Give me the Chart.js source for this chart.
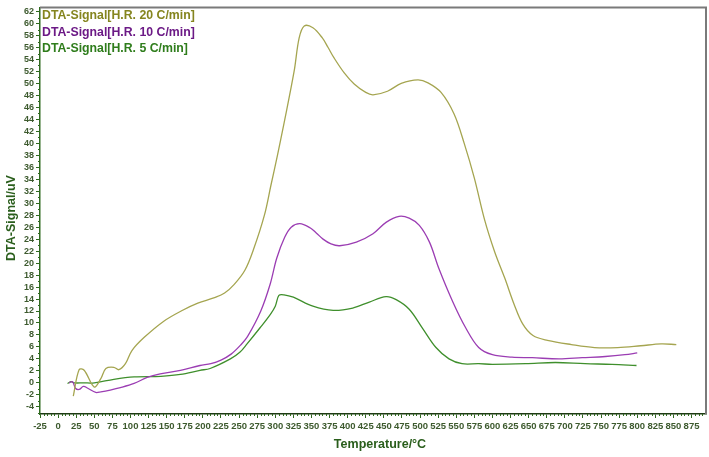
<!DOCTYPE html>
<html>
<head>
<meta charset="utf-8">
<script src="https://cdn.jsdelivr.net/npm/chart.js@4.4.1/dist/chart.umd.min.js"></script>
<style>
  html, body { margin: 0; padding: 0; background: #fff; }
  #wrap { width: 709px; height: 457px; }
</style>
</head>
<body>
<div id="wrap"><canvas id="dtaChart" width="709" height="457"></canvas></div>
<script>
// values
const seriesNames = ['DTA-Signal[H.R. 20 C/min]', 'DTA-Signal[H.R. 10 C/min]', 'DTA-Signal[H.R. 5 C/min]'];

const temp20 = [21, 29, 36, 50, 59, 66, 77, 84, 93, 102, 119, 146, 170, 193, 215, 230, 243, 258, 270, 285, 294, 303, 312, 326, 333, 340, 352, 365, 373, 381, 395, 409, 425, 435, 455, 474, 497, 511, 529, 547, 561, 575, 589, 603, 617, 630, 642, 656, 676, 709, 741, 773, 805, 833, 854];
const sig20  = [-2.2, 2.2, 2.1, -0.7, 0.7, 2.4, 2.6, 2.2, 3.2, 5.4, 7.6, 10.3, 12.0, 13.3, 14.2, 15.0, 16.4, 18.8, 22.3, 28.0, 33.0, 38.0, 43.3, 52.0, 57.6, 59.6, 59.3, 57.6, 56.0, 54.3, 51.8, 49.9, 48.5, 48.1, 48.7, 50.0, 50.6, 50.1, 48.5, 44.9, 40.0, 34.2, 27.3, 21.9, 17.5, 13.1, 9.8, 7.9, 7.1, 6.4, 5.9, 5.9, 6.2, 6.5, 6.4];

const temp10 = [15, 20, 24, 29, 35, 41, 52, 59, 72, 86, 105, 123, 141, 169, 196, 211, 225, 239, 252, 262, 280, 293, 302, 313, 322, 334, 348, 357, 366, 377, 389, 412, 435, 453, 471, 485, 499, 513, 526, 545, 563, 581, 600, 627, 655, 692, 724, 756, 783, 800];
const sig10  = [0, 0.2, -0.9, -1.1, -0.6, -0.9, -1.6, -1.5, -1.2, -0.8, -0.1, 0.9, 1.5, 2.1, 2.9, 3.2, 3.8, 4.8, 6.3, 7.8, 12.0, 16.5, 20.8, 24.3, 26.0, 26.6, 25.9, 25.0, 24.0, 23.2, 22.9, 23.5, 24.9, 26.8, 27.8, 27.5, 26.3, 23.5, 19.1, 13.6, 9.2, 5.9, 4.7, 4.3, 4.2, 4.0, 4.2, 4.4, 4.7, 5.0];

const temp5 = [13, 18, 22, 35, 50, 77, 105, 142, 169, 196, 210, 238, 251, 261, 279, 293, 300, 305, 312, 325, 352, 380, 407, 430, 453, 467, 485, 503, 522, 540, 558, 581, 600, 646, 687, 728, 765, 799];
const sig5  = [-0.1, 0.2, 0, 0, 0, 0.6, 1.0, 1.1, 1.4, 2.1, 2.4, 4.0, 5.1, 6.5, 9.2, 11.4, 12.8, 14.6, 14.7, 14.3, 12.8, 12.1, 12.5, 13.5, 14.4, 13.9, 12.3, 9.2, 5.9, 4.0, 3.2, 3.2, 3.1, 3.2, 3.4, 3.2, 3.1, 2.9];

const xTicks = [-25, 0, 25, 50, 75, 100, 125, 150, 175, 200, 225, 250, 275, 300, 325, 350, 375, 400, 425, 450, 475, 500, 525, 550, 575, 600, 625, 650, 675, 700, 725, 750, 775, 800, 825, 850, 875];
const yTicks = [-4, -2, 0, 2, 4, 6, 8, 10, 12, 14, 16, 18, 20, 22, 24, 26, 28, 30, 32, 34, 36, 38, 40, 42, 44, 46, 48, 50, 52, 54, 56, 58, 60, 62];

const lineColors = ['#a5a550', '#9b3db3', '#3f8f2c'];
const textColors = ['#85851f', '#6c1a86', '#2f7d1c'];
const axisGreen = '#2f6a1f';

function toPoints(xs, ys) {
    return xs.map((x, i) => ({ x: x, y: ys[i] }));
}

// minor ticks, frame, axis titles and the in-plot legend
const decorPlugin = {
    id: 'decor',
    afterDraw(chart) {
        const ctx = chart.ctx;
        const area = chart.chartArea;
        const xs = chart.scales.x;
        const ys = chart.scales.y;
        ctx.save();
        ctx.strokeStyle = axisGreen;
        ctx.lineWidth = 1;
        ctx.beginPath();
        for (let v = -25; v <= 890; v += 5) {
            if (v % 25 === 0) continue;
            const px = Math.round(xs.getPixelForValue(v)) + 0.5;
            ctx.moveTo(px, area.bottom);
            ctx.lineTo(px, area.bottom + 2);
        }
        for (let v = -5; v <= 62; v += 1) {
            if (v % 2 === 0) continue;
            const py = Math.round(ys.getPixelForValue(v)) + 0.5;
            ctx.moveTo(area.left, py);
            ctx.lineTo(area.left - 2, py);
        }
        ctx.stroke();

        // gray frame on top and right
        ctx.strokeStyle = '#7a7a7a';
        ctx.lineWidth = 2;
        ctx.beginPath();
        ctx.moveTo(area.left, area.top);
        ctx.lineTo(area.right, area.top);
        ctx.lineTo(area.right, area.bottom);
        ctx.stroke();

        // axis titles
        ctx.fillStyle = '#2a5e1c';
        ctx.font = 'bold 12.5px "Liberation Sans", Arial, sans-serif';
        ctx.textAlign = 'center';
        ctx.textBaseline = 'middle';
        ctx.fillText('Temperature/°C', 380, 445);
        ctx.save();
        ctx.translate(12, 218);
        ctx.rotate(-Math.PI / 2);
        ctx.fillText('DTA-Signal/uV', 0, 0);
        ctx.restore();

        ctx.font = 'bold 12.3px "Liberation Sans", Arial, sans-serif';
        ctx.textAlign = 'left';
        seriesNames.forEach((name, i) => {
            ctx.fillStyle = textColors[i];
            ctx.fillText(name, area.left + 2, 16 + i * 16.3);
        });
        ctx.restore();
    }
};

const ctx = document.getElementById('dtaChart').getContext('2d');
new Chart(ctx, {
    type: 'line',
    data: {
        datasets: [
            { label: seriesNames[0], data: toPoints(temp20, sig20), borderColor: lineColors[0] },
            { label: seriesNames[1], data: toPoints(temp10, sig10), borderColor: lineColors[1] },
            { label: seriesNames[2], data: toPoints(temp5, sig5), borderColor: lineColors[2] }
        ]
    },
    options: {
        responsive: false,
        animation: false,
        layout: { padding: { top: 2, right: 3, left: 0, bottom: 0 } },
        elements: {
            point: { radius: 0 },
            line: { borderWidth: 1.3, tension: 0.35, fill: false }
        },
        plugins: {
            legend: { display: false },
            tooltip: { enabled: false }
        },
        scales: {
            x: {
                type: 'linear',
                min: -25,
                max: 895,
                afterFit(scale) { scale.height = 43; },
                afterBuildTicks(scale) { scale.ticks = xTicks.map(v => ({ value: v })); },
                grid: { drawOnChartArea: false, drawTicks: true, tickLength: 4, color: axisGreen },
                border: { color: '#1e3a14', width: 1.5 },
                ticks: {
                    autoSkip: false,
                    maxRotation: 0,
                    padding: 3,
                    color: '#3d5a2e',
                    font: { family: '"Liberation Sans Narrow", "Liberation Sans", Arial', size: 9.5, weight: 'bold' }
                },
                title: { display: false }
            },
            y: {
                type: 'linear',
                min: -5.2,
                max: 62.7,
                afterFit(scale) { scale.width = 40; },
                afterBuildTicks(scale) { scale.ticks = yTicks.map(v => ({ value: v })); },
                grid: { drawOnChartArea: false, drawTicks: true, tickLength: 4, color: axisGreen },
                border: { color: axisGreen, width: 1.5 },
                ticks: {
                    autoSkip: false,
                    padding: 2,
                    color: '#3d5a2e',
                    font: { family: '"Liberation Sans", Arial', size: 9, weight: 'bold' }
                },
                title: { display: false }
            }
        }
    },
    plugins: [decorPlugin]
});
</script>
</body>
</html>
